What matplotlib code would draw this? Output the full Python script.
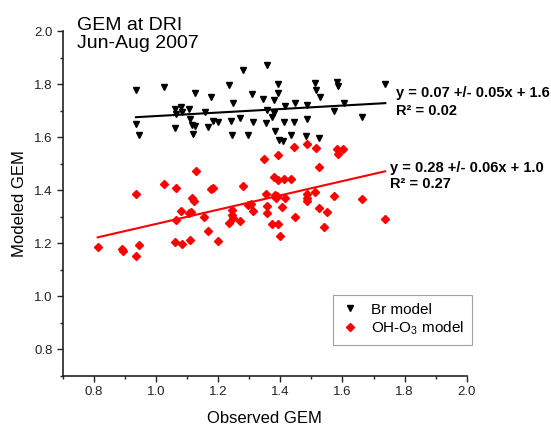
import numpy as np
import matplotlib
matplotlib.use("Agg")
import matplotlib.pyplot as plt
from matplotlib.ticker import MultipleLocator, FormatStrFormatter

plt.rcParams['font.family'] = ['Liberation Sans', 'DejaVu Sans']
plt.rcParams['mathtext.fontset'] = 'custom'
plt.rcParams['mathtext.rm'] = 'Liberation Sans'
plt.rcParams['mathtext.default'] = 'regular'

# Br model (black triangles)
br_obs = [0.935, 1.026, 1.281, 1.356, 1.234, 1.126, 1.177, 1.308, 1.392, 1.392,
          1.345, 1.381, 1.248, 1.513, 1.515, 1.527, 1.581, 1.587, 1.062, 1.080,
          1.105, 1.084, 1.064, 1.158, 1.109, 1.115, 1.126, 1.184, 1.200, 1.242,
          1.269, 1.312, 1.353, 1.358, 1.381, 1.373, 1.414, 1.446, 1.485, 1.574,
          1.604, 1.412, 1.444, 1.486, 0.935, 0.946, 1.062, 1.118, 1.167, 1.244,
          1.295, 1.384, 1.395, 1.408, 1.434, 1.484, 1.524, 1.738, 1.663]
br_mod = [1.776, 1.788, 1.853, 1.873, 1.798, 1.767, 1.752, 1.762, 1.800, 1.767,
          1.743, 1.740, 1.727, 1.803, 1.778, 1.752, 1.809, 1.793, 1.707, 1.715,
          1.707, 1.695, 1.687, 1.695, 1.669, 1.647, 1.642, 1.662, 1.657, 1.660,
          1.672, 1.657, 1.652, 1.702, 1.692, 1.675, 1.717, 1.727, 1.720, 1.700,
          1.727, 1.657, 1.657, 1.669, 1.649, 1.607, 1.634, 1.612, 1.637, 1.607,
          1.607, 1.624, 1.589, 1.586, 1.609, 1.604, 1.597, 1.801, 1.676]

# OH-O3 model (red diamonds)
oh_obs = [0.812, 0.889, 0.892, 0.946, 0.936, 0.935, 1.026, 1.063, 1.127, 1.117,
          1.123, 1.080, 1.106, 1.112, 1.064, 1.062, 1.084, 1.108, 1.154, 1.167,
          1.200, 1.178, 1.184, 1.281, 1.244, 1.244, 1.247, 1.234, 1.270, 1.295,
          1.307, 1.312, 1.347, 1.392, 1.444, 1.485, 1.516, 1.583, 1.603, 1.587,
          1.523, 1.380, 1.393, 1.413, 1.434, 1.353, 1.383, 1.390, 1.386, 1.415,
          1.485, 1.486, 1.486, 1.512, 1.574, 1.662, 1.358, 1.405, 1.356, 1.373,
          1.391, 1.400, 1.448, 1.525, 1.550, 1.541, 1.737]
oh_mod = [1.185, 1.179, 1.171, 1.194, 1.151, 1.384, 1.422, 1.408, 1.474, 1.369,
          1.360, 1.323, 1.313, 1.319, 1.289, 1.205, 1.198, 1.213, 1.300, 1.246,
          1.209, 1.403, 1.409, 1.415, 1.325, 1.306, 1.296, 1.278, 1.285, 1.346,
          1.347, 1.323, 1.519, 1.533, 1.564, 1.573, 1.558, 1.554, 1.554, 1.536,
          1.486, 1.451, 1.438, 1.442, 1.442, 1.387, 1.383, 1.379, 1.372, 1.369,
          1.386, 1.369, 1.360, 1.395, 1.377, 1.366, 1.342, 1.335, 1.313, 1.272,
          1.272, 1.228, 1.298, 1.333, 1.318, 1.262, 1.292]

br_eq = "y = 0.07 +/- 0.05x + 1.6"
br_r2 = "R² = 0.02"
oh_eq = "y = 0.28 +/- 0.06x + 1.0"
oh_r2 = "R² = 0.27"

W, H = 551, 430
fig = plt.figure(figsize=(W / 100, H / 100), dpi=100)
ax = fig.add_axes([62.9 / W, 1 - 376 / H, (466.7 - 62.9) / W, (376 - 31) / H])

ax.plot(br_obs, br_mod, linestyle='none', marker='v', color='black',
        markersize=4.4, label='Br model')
ax.plot(oh_obs, oh_mod, linestyle='none', marker='D', color='#ff0000',
        markersize=3.6, label='OH-O$_3$ model')

for xs, ys, c in [(br_obs, br_mod, 'black'), (oh_obs, oh_mod, '#ff0000')]:
    xs = np.asarray(xs); ys = np.asarray(ys)
    k, b = np.polyfit(xs, ys, 1)
    xx = np.array([xs.min(), xs.max()])
    ax.plot(xx, k * xx + b, color=c, linewidth=1.5)

ax.set_xlim(0.7, 2.0)
ax.set_ylim(0.7, 2.0)
ax.xaxis.set_major_locator(MultipleLocator(0.2))
ax.xaxis.set_minor_locator(MultipleLocator(0.1))
ax.yaxis.set_major_locator(MultipleLocator(0.2))
ax.yaxis.set_minor_locator(MultipleLocator(0.1))
ax.set_xticks([0.8, 1.0, 1.2, 1.4, 1.6, 1.8, 2.0])
ax.set_yticks([0.8, 1.0, 1.2, 1.4, 1.6, 1.8, 2.0])
ax.xaxis.set_major_formatter(FormatStrFormatter('%.1f'))
ax.yaxis.set_major_formatter(FormatStrFormatter('%.1f'))

for s in ['top', 'right']:
    ax.spines[s].set_visible(False)
for s in ['left', 'bottom']:
    ax.spines[s].set_linewidth(1.2)
    ax.spines[s].set_color('#222222')
ax.tick_params(which='major', direction='out', length=4.5, width=1.0,
               labelsize=9.5, pad=3, color='#222222', labelcolor='#222222')
ax.tick_params(which='minor', direction='out', length=2.5, width=1.0,
               color='#222222')

ax.set_xlabel('Observed GEM', fontsize=12)
ax.xaxis.set_label_coords(0.5, -0.101)
ax.set_ylabel('Modeled GEM', fontsize=12)
ax.yaxis.set_label_coords(-0.09, 0.5)

fig.text(77 / W, 1 - 30 / H, 'GEM at DRI', fontsize=14, va='baseline', ha='left')
fig.text(77 / W, 1 - 48 / H, 'Jun-Aug 2007', fontsize=14, va='baseline', ha='left')

fig.text(396 / W, 1 - 93 / H, br_eq, fontsize=10.5, fontweight='bold', va='center', ha='left')
fig.text(396 / W, 1 - 111 / H, br_r2, fontsize=10.5, fontweight='bold', va='center', ha='left')
fig.text(390 / W, 1 - 168 / H, oh_eq, fontsize=10.5, fontweight='bold', va='center', ha='left')
fig.text(390 / W, 1 - 184 / H, oh_r2, fontsize=10.5, fontweight='bold', va='center', ha='left')

leg = ax.legend(loc='upper left', bbox_to_anchor=((333 - 62.9) / 403.8, (376 - 295) / 345),
                fontsize=11, frameon=True, fancybox=False, borderpad=0.5,
                handlelength=1.2, handletextpad=0.8, labelspacing=0.2,
                borderaxespad=0.0)
leg.get_frame().set_edgecolor('#888888')
leg.get_frame().set_linewidth(0.8)

fig.savefig('out.png', dpi=100)
